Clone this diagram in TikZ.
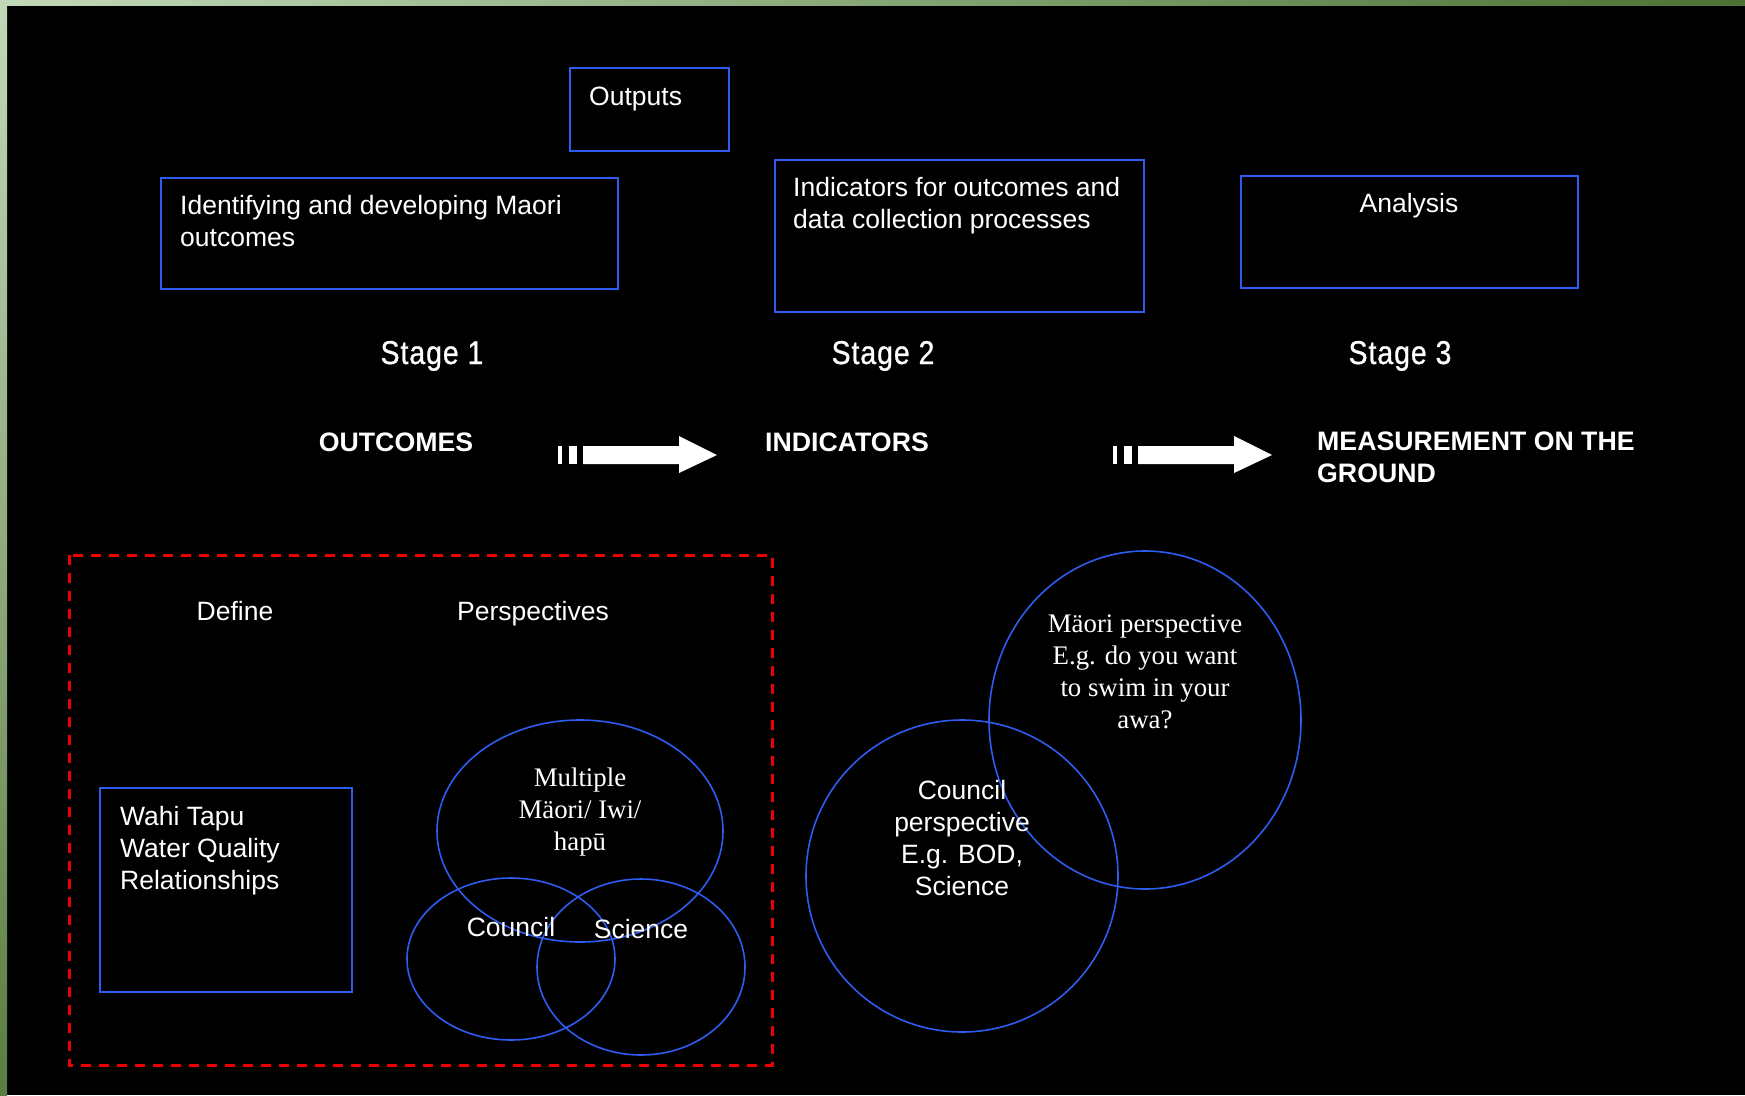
\documentclass[tikz,border=0pt]{standalone}
\usepackage{fontspec}
\setmainfont{Liberation Sans}
\newfontfamily\timesface{Liberation Serif}
\newfontfamily\stageface[FakeStretch=0.86, FakeBold=0.8, LetterSpace=3]{Liberation Sans}
\definecolor{boxblue}{HTML}{2F5CF0}
\definecolor{dashred}{HTML}{EE0000}
\definecolor{frameA}{HTML}{C2D9B9}
\definecolor{frameB}{HTML}{4B7233}
\definecolor{frameC}{HTML}{5A7D42}

\begin{document}
\begin{tikzpicture}[x=1pt, y=-1pt,
  box/.style={draw=boxblue, line width=2pt},
  ring/.style={draw=boxblue, line width=1.6pt},
  sans/.style={white, inner sep=0pt, font=\fontsize{26.5}{32}\selectfont, align=left},
  serif/.style={white, inner sep=0pt, font=\timesface\fontsize{26.8}{32}\selectfont, align=center},
  heading/.style={white, inner sep=0pt, font=\bfseries\fontsize{26.7}{32}\selectfont, align=left},
  stagelabel/.style={white, inner sep=0pt, font=\stageface\fontsize{33}{40}\selectfont}]
\fill[black] (0,0) rectangle (1745,1095);
\shade[left color=frameA, right color=frameB] (0,0) rectangle (1745,5);
\shade[top color=frameA, bottom color=frameC] (0,0) rectangle (7,1095);

\draw[box] (570,68) rectangle (729,151);
\node[sans, anchor=base west] (outputs) at (589,105) {Outputs};
\draw[box] (161,178) rectangle (618,289);
\node[sans, anchor=north west] (develop) at (180,195) {Identifying and developing Maori\\outcomes};
\draw[box] (775,160) rectangle (1144,312);
\node[sans, anchor=north west] (indic) at (793,177) {Indicators for outcomes and\\data collection processes};
\draw[box] (1241,176) rectangle (1578,288);
\node[sans, anchor=base] (analysis) at (1409,212) {Analysis};

\node[stagelabel, anchor=base] (stage1) at (432,364) {Stage 1};
\node[stagelabel, anchor=base] (stage2) at (883,364) {Stage 2};
\node[stagelabel, anchor=base] (stage3) at (1400,364) {Stage 3};

\node[heading, anchor=base] (outcomes) at (396,451) {OUTCOMES};
\node[heading, anchor=base] (indicators) at (847,451) {INDICATORS};
\node[heading, anchor=north west] (measure) at (1317,432) {MEASUREMENT ON THE\\GROUND};

\foreach \dx in {0,555} {
  \begin{scope}[xshift=\dx]
  \fill[white] (558,446) rectangle (562,464);
  \fill[white] (569,446) rectangle (577,464);
  \fill[white] (583,446) -- (679,446) -- (679,436) -- (717,455)
    -- (679,473) -- (679,464) -- (583,464) -- cycle;
  \end{scope}
}

\draw[dashred, line width=3pt, dash pattern=on 10pt off 8pt] (69,555) rectangle (772,1065);
\node[sans, anchor=base] (define) at (235,620) {Define};
\node[sans, anchor=base] (persp) at (533,620) {Perspectives};

\draw[box] (100,788) rectangle (352,992);
\node[sans, anchor=north west] (wahi) at (120,806) {Wahi Tapu\\Water Quality\\Relationships};

\draw[ring] (580,831) ellipse (143 and 111);
\draw[ring] (511,959) ellipse (104 and 81);
\draw[ring] (641,967) ellipse (104 and 88);
\node[serif, anchor=north] (multi) at (580,768) {Multiple\\Mäori/ Iwi/\\hapū};
\node[sans, anchor=base] (council) at (511,936) {Council};
\node[sans, anchor=base] (science) at (641,938) {Science};

\draw[ring] (962,876) circle (156);
\draw[ring] (1145,720) ellipse (156 and 169);
\node[sans, align=center, anchor=north] (councilp) at (962,780) {Council\\perspective\\E.g. BOD,\\Science};
\node[serif, anchor=north] (maorip) at (1145,615) {Mäori perspective\\E.g. do you want\\to swim in your\\awa?};
\end{tikzpicture}
\end{document}
